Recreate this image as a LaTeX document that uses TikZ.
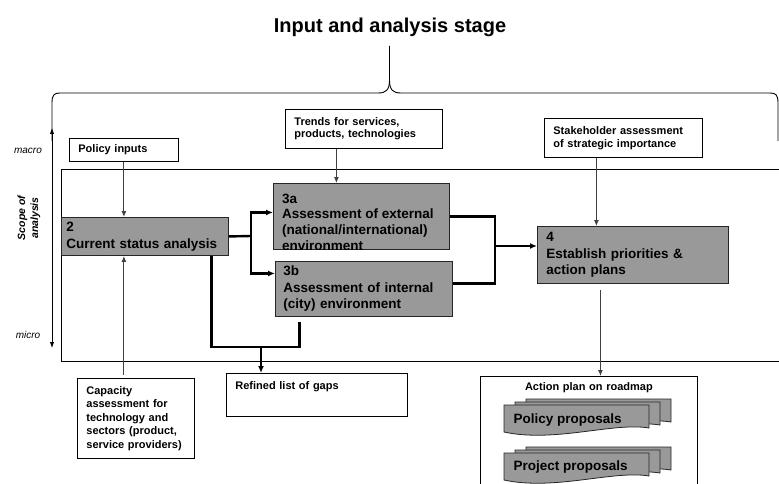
\documentclass[tikz,border=0pt]{standalone}
\usepackage{fontspec}
\setmainfont{Liberation Sans}
\usetikzlibrary{calc,arrows.meta}
\def\docsheet(#1,#2){\draw[sheet] (#1,#2) -- ({#1+145},#2) -- ({#1+145},{#2+23}) .. controls ({#1+110},{#2+17}) and ({#1+50},{#2+38}) .. (#1,{#2+27}) -- cycle;}
\tikzset{
	stagebox/.style={draw=black!85, fill=black!40, line width=0.9pt, anchor=north west, inner xsep=8pt, align=left, font=\fontsize{13.5}{16.5}\selectfont\bfseries},
	inputbox/.style={draw=black, fill=white, line width=0.8pt, anchor=north west, inner xsep=9pt, align=left, font=\fontsize{11}{13.5}\selectfont\bfseries},
	flow/.style={draw=black!75, line width=1pt, -{Latex[length=6pt,width=5pt]}},
	mainflow/.style={draw=black, line width=2.4pt},
	mainarrow/.style={mainflow, -{Latex[length=7pt,width=6pt]}},
	sheet/.style={draw=black!85, fill=black!40, line width=0.8pt},
}

\begin{document}
\begin{tikzpicture}[x=1pt,y=-1pt]
			%%%%% START %%%%%
			\useasboundingbox (0,0) rectangle (779,484);
			
			\draw[line width=0.9pt] (785,169) -- (61,169) -- (61,361) -- (785,361);
			
			\draw[line width=0.9pt] (52,141) -- (52,103) .. controls (52,95) and (54,93) .. (60,93) -- (378,93) .. controls (386,93) and (389.5,90) .. (389.5,80) -- (389.5,46);
			\draw[line width=0.9pt] (778,141) -- (778,103) .. controls (778,95) and (776,93) .. (770,93) -- (401,93) .. controls (393,93) and (389.5,90) .. (389.5,80);
			\node[font=\fontsize{20}{24}\selectfont\bfseries] (title) at (390,27) {Input and analysis stage};
			
			\coordinate (scopetop) at (52,128);
			\coordinate (scopebot) at (52,348);
			\draw[line width=0.9pt, {Latex[length=6pt,width=4.5pt]}-{Latex[length=6pt,width=4.5pt]}] (scopetop) -- (scopebot);
			\node[font=\fontsize{10}{12}\selectfont\itshape] (macro) at (28,151) {macro};
			\node[font=\fontsize{10}{12}\selectfont\itshape] (micro) at (28,335) {micro};
			\node[rotate=90, align=center, font=\fontsize{10.5}{13}\selectfont\bfseries\itshape] (scope) at (29,218) {Scope of\\analysis};
			
			\node[inputbox, text width=91pt, minimum height=23pt] (policy) at (69,138) {Policy inputs};
			\node[inputbox, text width=139pt, minimum height=39pt, font=\fontsize{11}{12.5}\selectfont\bfseries] (trends) at (285,109) {Trends for services,\\products, technologies};
			\node[inputbox, text width=140pt, minimum height=39pt, font=\fontsize{11}{13}\selectfont\bfseries] (stake) at (544,118) {Stakeholder assessment\\of strategic importance};
			
			\node[stagebox, inner xsep=5pt, text width=157pt, minimum height=38pt, font=\fontsize{13.5}{17.5}\selectfont\bfseries] (cur) at (61,217) {2\\Current status analysis};
			\node[stagebox, minimum width=176pt, minimum height=66pt] (ext) at (273,183) {};
			\begin{scope}
				\clip (ext.south west) rectangle (ext.north east);
				\node[anchor=north west, inner sep=0pt, align=left, font=\fontsize{13.5}{15.8}\selectfont\bfseries] (exttext) at (282,193.5) {3a\\Assessment of external\\(national/international)\\environment};
			\end{scope}
			\node[stagebox, text width=161pt, minimum height=55pt] (int) at (275,261) {3b\\Assessment of internal\\(city) environment};
			\node[stagebox, inner xsep=9pt, text width=173pt, minimum height=57pt] (prio) at (537,226) {4\\Establish priorities \&\\action plans};
			
			\node[inputbox, text width=99pt, minimum height=80pt] (cap) at (77,378) {Capacity\\assessment for\\technology and\\sectors (product,\\service providers)};
			\node[inputbox, text width=163pt, inner ysep=3pt, text height=13pt, text depth=24pt] (gaps) at (226,373) {Refined list of gaps};
			\node[inputbox, align=center, text width=199pt, inner ysep=3pt, text height=11pt, text depth=95pt] (plan) at (480,376) {Action plan on roadmap};
			
			\docsheet(526,399)
			\docsheet(515,402)
			\docsheet(504,405)
			\node[anchor=west, font=\fontsize{13.5}{16}\selectfont\bfseries] (policyprop) at (510,420) {Policy proposals};
			\docsheet(526,447)
			\docsheet(515,450)
			\docsheet(504,453)
			\node[anchor=west, font=\fontsize{13.5}{16}\selectfont\bfseries] (projectprop) at (510,467) {Project proposals};
			
			\draw[flow] (policy.south) -- (policy.south |- cur.north);
			\draw[flow] ([yshift=3pt]policy.south |- cap.north) -- (policy.south |- cur.south);
			\draw[flow] ([xshift=-27.5pt]trends.south) -- ([xshift=-27.5pt]trends.south |- ext.north);
			\draw[flow] ([xshift=-27pt]stake.south) -- ([xshift=-27pt]stake.south |- prio.north);
			\draw[flow] ([xshift=-32.5pt,yshift=-6pt]prio.south) -- ([xshift=-32.5pt]prio.south |- plan.north);
			
			\coordinate (split) at (251,236);
			\draw[mainflow] (cur.east) -- (split);
			\draw[mainarrow] (split) |- ([yshift=4pt]ext.west);
			\draw[mainarrow] (split) |- ([yshift=15.5pt]int.west);
			
			\coordinate (merge) at (494,246);
			\draw[mainflow] (ext.east) -| ([xshift=42pt,yshift=5.5pt]int.east) -- ([yshift=5.5pt]int.east);
			\draw[mainarrow] (merge) -- (merge -| prio.west);
			
			\coordinate (gapline) at (261,347);
			\draw[mainflow] ([xshift=66.5pt]cur.south) |- (gapline) -| ([xshift=-64.5pt,yshift=-5pt]int.south);
			\draw[mainarrow] (gapline) -- (gapline |- gaps.north);
			%%%%% END %%%%%
\end{tikzpicture}
\end{document}
